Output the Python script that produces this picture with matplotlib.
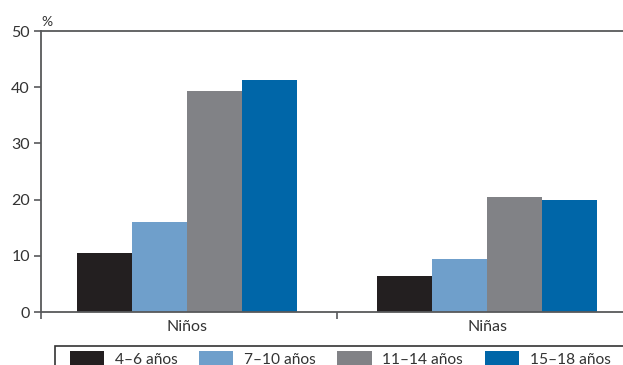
import matplotlib
matplotlib.use('Agg')
import numpy as np
from matplotlib import pyplot as plt
from matplotlib.patches import Rectangle
from matplotlib.ticker import FixedLocator

groups = ['Niños', 'Niñas']
ages = ['4–6 años', '7–10 años', '11–14 años', '15–18 años']
values = {
    '4–6 años': [10.5, 6.4],
    '7–10 años': [16.0, 9.4],
    '11–14 años': [39.3, 20.5],
    '15–18 años': [41.3, 19.9],
}
colors = ['#231f20', '#6f9fcb', '#818286', '#0066a8']
yticks = [0, 10, 20, 30, 40, 50]

plt.rcParams['font.family'] = ['Lato', 'DejaVu Sans']
axis_col = '#58595b'
text_col = '#333333'

fig = plt.figure(figsize=(6.23, 3.65), dpi=100)
ax = fig.add_axes([41 / 623, 53 / 365, 1 - 41 / 623, 281 / 365])

x = np.arange(len(groups))
w = 0.183
for i, age in enumerate(ages):
    ax.bar(x + (i - 1.5) * w, values[age], width=w, color=colors[i],
           label=age, zorder=2)

ax.set_xlim(-0.487, 1.453)
ax.set_ylim(0, 50)
ax.set_yticks(yticks)
ax.set_xticks(x)
ax.set_xticklabels(groups)
ax.xaxis.set_minor_locator(FixedLocator([-0.487, 0.5]))
ax.tick_params(axis='x', which='major', length=0, pad=6, labelsize=11.5,
               labelcolor=text_col)
ax.tick_params(axis='x', which='minor', length=5, width=1.2, color=axis_col)
ax.tick_params(axis='y', length=5, width=1.2, color=axis_col, pad=3,
               labelsize=11.5, labelcolor=text_col)

for side in ['left', 'bottom', 'top']:
    ax.spines[side].set_color(axis_col)
    ax.spines[side].set_linewidth(1.3)
ax.spines['right'].set_visible(False)

ax.text(0.0, 1.012, '%', transform=ax.transAxes, fontsize=10,
        color=text_col, ha='left', va='bottom')

# legend box runs off the bottom and right edges
fig.patches.append(Rectangle((55 / 623, -0.2), 1.0, 0.2 + 19 / 365,
                             transform=fig.transFigure, fill=False,
                             edgecolor=text_col, linewidth=1.2))
leg = fig.legend(loc='upper left', bbox_to_anchor=(70 / 623, 1 - 351 / 365),
                 ncol=4, frameon=False, fontsize=11.2,
                 handlelength=2.2, handleheight=1.1, handletextpad=0.7,
                 columnspacing=1.37, borderpad=0, borderaxespad=0)
for t in leg.get_texts():
    t.set_color(text_col)

fig.savefig('out.png', dpi=100)
